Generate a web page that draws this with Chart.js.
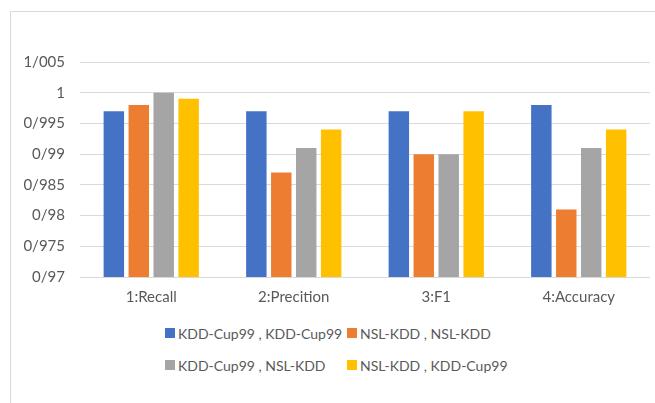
<!DOCTYPE html>
<html>
<head>
<meta charset="utf-8">
<script src="https://cdn.jsdelivr.net/npm/chart.js@4"></script>
<style>
  body { margin: 0; background: #fff; font-family: Lato, "Noto Sans", sans-serif; }
  #frame { position: absolute; left: 10px; top: 11px; width: 700px; height: 420px; border: 1px solid #d9d9d9; box-sizing: border-box; }
  #wrap { position: absolute; left: 11px; top: 12px; width: 644px; height: 300px; }
  #legend { position: absolute; left: 0; top: 0; }
  .item { position: absolute; display: flex; align-items: center; font-size: 14px; color: #595959; white-space: nowrap; }
  .box { width: 10px; height: 10px; margin-right: 3px; }
</style>
</head>
<body>
<div id="frame"></div>
<div id="wrap"><canvas id="chart"></canvas></div>
<div id="legend"></div>
<script>
const categories = ['1:Recall', '2:Precition', '3:F1', '4:Accuracy'];
const seriesNames = ['KDD-Cup99 , KDD-Cup99', 'NSL-KDD , NSL-KDD', 'KDD-Cup99 , NSL-KDD', 'NSL-KDD , KDD-Cup99'];
const kddKdd = [0.997, 0.997, 0.997, 0.998];
const nslNsl = [0.998, 0.987, 0.990, 0.981];
const kddNsl = [1.000, 0.991, 0.990, 0.991];
const nslKdd = [0.999, 0.994, 0.997, 0.994];
const yTicks = [0.97, 0.975, 0.98, 0.985, 0.99, 0.995, 1, 1.005];
const colors = ['#4472C4', '#ED7D31', '#A5A5A5', '#FFC000'];

const allSeries = [kddKdd, nslNsl, kddNsl, nslKdd];

const chart = new Chart(document.getElementById('chart'), {
  type: 'bar',
  data: {
    labels: categories,
    datasets: allSeries.map((d, i) => ({
      label: seriesNames[i],
      data: d,
      backgroundColor: colors[i],
      categoryPercentage: 0.7,
      barPercentage: 0.82
    }))
  },
  options: {
    responsive: true,
    maintainAspectRatio: false,
    animation: false,
    layout: { padding: { top: 50, right: 5, left: 0, bottom: 0 } },
    plugins: { legend: { display: false }, tooltip: { enabled: false } },
    scales: {
      x: {
        grid: { display: false, drawTicks: false },
        border: { display: false },
        ticks: { color: '#595959', font: { family: 'Lato', size: 15 }, padding: 11 },
        afterFit: s => { s.height = 35; }
      },
      y: {
        min: yTicks[0],
        max: yTicks[yTicks.length - 1],
        afterBuildTicks: s => { s.ticks = yTicks.map(v => ({ value: v })); },
        grid: { color: '#d9d9d9', drawTicks: false },
        border: { display: false },
        ticks: {
          color: '#595959',
          font: { family: 'Lato', size: 15 },
          padding: 15,
          callback: v => String(Number(v.toFixed(3))).replace('.', '/')
        },
        afterFit: s => { s.width = 69; }
      }
    }
  }
});

// legend laid out as 2x2 grid like the original
const legend = document.getElementById('legend');
const cols = [165, 347];
const rows = [333, 365];
chart.data.datasets.forEach((ds, i) => {
  const el = document.createElement('div');
  el.className = 'item';
  el.style.left = cols[i % 2] + 'px';
  el.style.top = (rows[Math.floor(i / 2)] - 9) + 'px';
  el.style.height = '18px';
  el.innerHTML = '<span class="box" style="background:' + ds.backgroundColor + '"></span>' + ds.label;
  legend.appendChild(el);
});
</script>
</body>
</html>
